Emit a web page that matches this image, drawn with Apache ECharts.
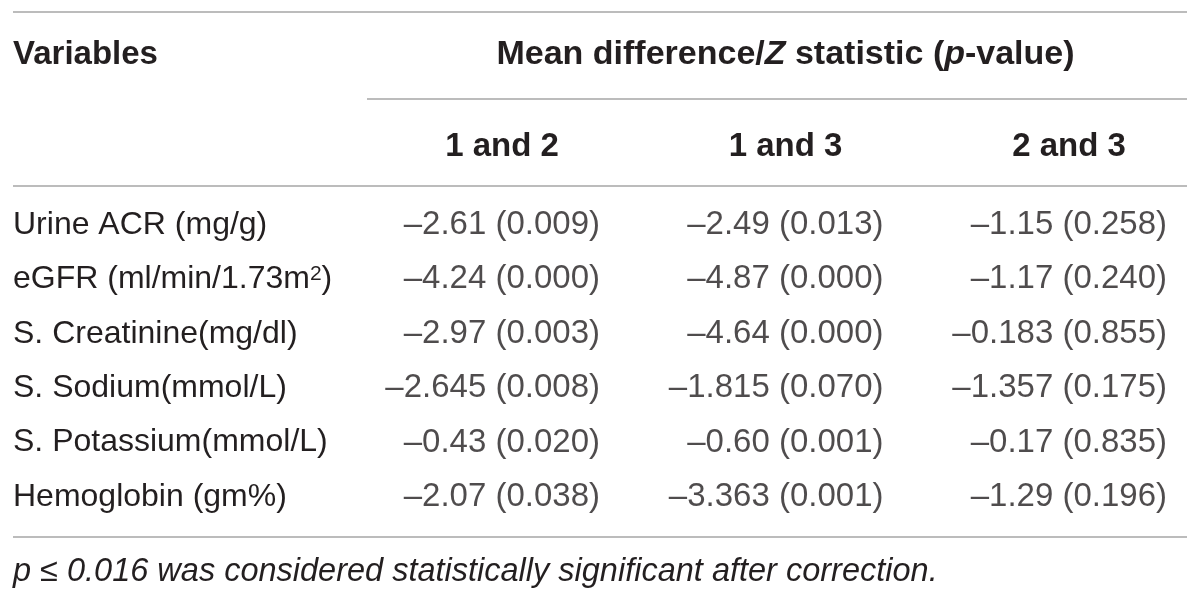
<!DOCTYPE html>
<html>
<head>
<meta charset="utf-8">
<title>Mean difference / Z statistic (p-value)</title>
<script src="https://cdn.jsdelivr.net/npm/echarts@6/dist/echarts.min.js"></script>
<style>
  html, body { margin: 0; padding: 0; background: #fff; }
  #table { width: 1200px; height: 599px; }
</style>
</head>
<body>
<div id="table"></div>
<script>
var variables = ['Urine ACR (mg/g)', 'eGFR (ml/min/1.73m²)', 'S. Creatinine(mg/dl)',
                 'S. Sodium(mmol/L)', 'S. Potassium(mmol/L)', 'Hemoglobin (gm%)'];
var comparisons = ['1 and 2', '1 and 3', '2 and 3'];

// mean difference / Z statistic and its p-value, one pair of arrays per comparison
var stat12 = [-2.61, -4.24, -2.97, -2.645, -0.43, -2.07];
var p12    = [0.009, 0.000, 0.003, 0.008, 0.020, 0.038];
var stat13 = [-2.49, -4.87, -4.64, -1.815, -0.60, -3.363];
var p13    = [0.013, 0.000, 0.000, 0.070, 0.001, 0.001];
var stat23 = [-1.15, -1.17, -0.183, -1.357, -0.17, -1.29];
var p23    = [0.258, 0.240, 0.855, 0.175, 0.835, 0.196];

var footnote = 'p ≤ 0.016 was considered statistically significant after correction.';

var FONT = '"Liberation Sans", Arial, Helvetica, sans-serif';
var INK = '#231f20';
var RULE = '#bcbcbc';

function decimals(v) {
  var s = String(Math.abs(v));
  return s.indexOf('.') < 0 ? 0 : s.length - s.indexOf('.') - 1;
}
function fmtStat(v) {
  var t = Math.abs(v).toFixed(Math.max(2, decimals(v)));
  return (v < 0 ? '\u2013' : '') + t;
}
function cell(stat, p) {
  return fmtStat(stat) + ' (' + p.toFixed(3) + ')';
}

var columns = [[stat12, p12], [stat13, p13], [stat23, p23]];
var series = columns.map(function (col, c) {
  return {
    type: 'scatter',
    symbolSize: 0,
    silent: true,
    clip: false,
    data: variables.map(function (v, r) {
      return [comparisons[c], v, cell(col[0][r], col[1][r])];
    }),
    label: {
      show: true,
      position: 'inside',
      align: 'right',
      verticalAlign: 'middle',
      offset: [98, 0],
      fontFamily: FONT,
      fontSize: 33,
      color: INK,
      formatter: function (d) { return d.data[2]; }
    }
  };
});

function rule(x1, y, x2) {
  return { type: 'line', silent: true,
           shape: { x1: x1, y1: y, x2: x2, y2: y },
           style: { stroke: RULE, lineWidth: 2 } };
}

var chart = echarts.init(document.getElementById('table'));
chart.setOption({
  backgroundColor: '#fff',
  animation: false,
  // column centres sit on the category ticks (boundaryGap off)
  grid: { left: 502, top: 197.8, width: 567, height: 326.4 },
  xAxis: {
    type: 'category',
    position: 'top',
    boundaryGap: false,
    data: comparisons,
    axisLine: { show: false },
    axisTick: { show: false },
    splitLine: { show: false },
    axisLabel: {
      margin: 50.8,
      verticalAlign: 'middle',
      fontFamily: FONT, fontSize: 33, fontWeight: 'bold', color: INK
    },
    name: 'Mean difference/{i|Z} statistic ({i|p}-value)',
    nameLocation: 'middle',
    nameGap: 142.8,
    nameTextStyle: {
      fontFamily: FONT, fontSize: 34, fontWeight: 'bold', color: INK,
      verticalAlign: 'middle',
      rich: { i: { fontFamily: FONT, fontSize: 34, fontWeight: 'bold',
                   fontStyle: 'italic', color: INK } }
    }
  },
  yAxis: {
    type: 'category',
    inverse: true,
    data: variables,
    axisLine: { show: false },
    axisTick: { show: false },
    splitLine: { show: false },
    axisLabel: {
      align: 'left',
      margin: 489,
      fontFamily: FONT, fontSize: 32, color: INK,
      // draw the squared unit as a proper superscript
      formatter: function (v) { return v.replace('²', '{sup|2}'); },
      rich: {
        sup: { fontFamily: FONT, fontSize: 21, color: INK, verticalAlign: 'top' }
      }
    }
  },
  graphic: [
    rule(13, 12, 1187),
    rule(367, 99, 1187),
    rule(13, 186, 1187),
    rule(13, 537, 1187),
    { type: 'text', silent: true, x: 13, y: 55,
      style: { text: 'Variables', fill: INK, verticalAlign: 'middle',
               font: 'bold 33px ' + FONT } },
    { type: 'text', silent: true, x: 13, y: 572,
      style: { text: footnote, fill: INK, verticalAlign: 'middle',
               font: 'italic 32.5px ' + FONT } }
  ],
  series: series
});
</script>
</body>
</html>
